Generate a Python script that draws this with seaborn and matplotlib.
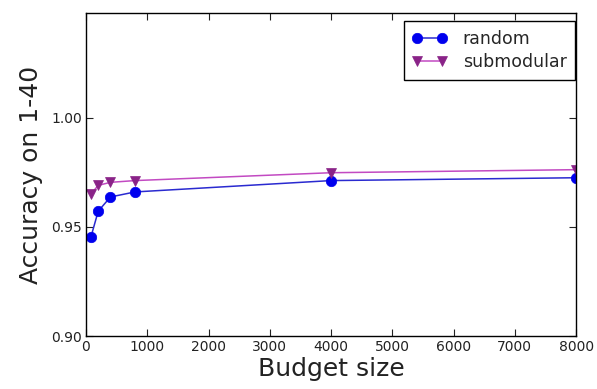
import matplotlib
matplotlib.use("Agg")
import matplotlib.pyplot as plt
import seaborn as sns
import pandas as pd

budget = [80, 200, 400, 800, 4000, 8000]
random_acc = [0.9453, 0.9572, 0.9637, 0.9660, 0.9712, 0.9725]
submodular_acc = [0.9650, 0.9690, 0.9704, 0.9712, 0.9748, 0.9762]
series_names = ["random", "submodular"]
yticks = [0.90, 0.95, 1.00]
xticks = [0, 1000, 2000, 3000, 4000, 5000, 6000, 7000, 8000]

df = pd.DataFrame({
    "Budget size": budget * 2,
    "acc": random_acc + submodular_acc,
    "method": [series_names[0]] * len(budget) + [series_names[1]] * len(budget),
})

sns.set_theme(style="white")
plt.rcParams["font.family"] = ["DejaVu Sans"]

fig = plt.figure(figsize=(5.97, 3.89), dpi=100)
ax = fig.add_axes([0.144, 0.136, 0.821, 0.831])

palette = {"random": "#0000ee", "submodular": "#8a2388"}
markers = {"random": "o", "submodular": "v"}
sns.lineplot(data=df, x="Budget size", y="acc", hue="method", style="method",
             markers=markers, dashes=False, palette=palette, ax=ax,
             markersize=7.5, linewidth=1.1, markeredgewidth=0.5, legend=False)

line_colors = {"random": "#2a2ad0", "submodular": "#c24ac2"}
for line, name in zip(ax.lines, series_names):
    line.set_color(line_colors[name])
    line.set_markerfacecolor(palette[name])
    line.set_markeredgecolor(palette[name])
    line.set_label(name)

ax.set_xlim(0, 8000)
ax.set_ylim(0.90, 1.048)
ax.set_xticks(xticks)
ax.set_xticklabels([str(v) for v in xticks], fontsize=10)
ax.set_yticks(yticks)
ax.set_yticklabels([f"{v:.2f}" for v in yticks], fontsize=10)
ax.tick_params(axis="both", which="both", direction="in", length=5, width=0.8,
               top=True, right=True, bottom=True, left=True, pad=3,
               colors="#222222", labelcolor="#222222")
for s in ax.spines.values():
    s.set_visible(True)
    s.set_color("black")
    s.set_linewidth(1.0)

ax.set_xlabel("Budget size", fontsize=18, labelpad=2, color="#222222")
ax.set_ylabel("Accuracy on 1-40", fontsize=18, labelpad=6, color="#222222")

leg = ax.legend(loc="upper right", fontsize=12.5, frameon=True, fancybox=False,
                edgecolor="black", numpoints=2, handlelength=2.0,
                borderpad=0.5, labelspacing=0.32, handletextpad=0.9,
                borderaxespad=0.0, bbox_to_anchor=(0.998, 0.975))
leg.get_frame().set_linewidth(1.0)
leg.get_frame().set_alpha(1)

fig.savefig("out.png", dpi=100)
